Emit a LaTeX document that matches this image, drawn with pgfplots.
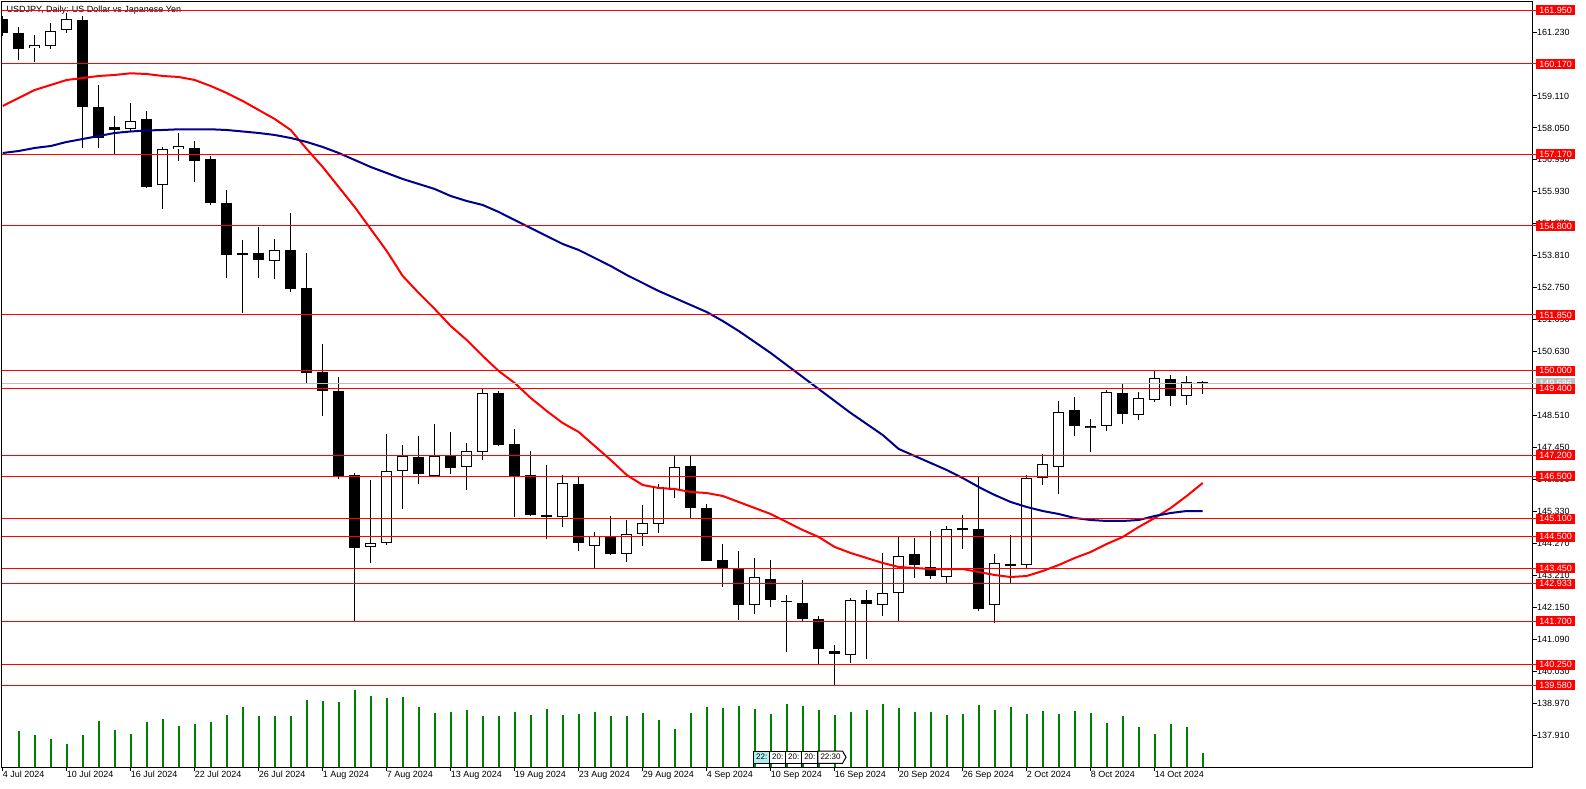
\documentclass[border=0pt]{standalone}
\usepackage{fontspec}
\setmainfont{Liberation Sans}
\usepackage{pgfplots}
\usepackage{pgfplotstable}
\pgfplotsset{compat=1.18}
\definecolor{lvl}{RGB}{255,0,0}
\definecolor{ma2}{RGB}{0,0,139}
\definecolor{vgreen}{RGB}{0,128,0}
\definecolor{bidgrey}{RGB}{192,192,192}
\definecolor{sepcyan}{RGB}{175,238,238}

\pgfplotstableread{
i O H L C
0 161.660 161.750 161.100 161.210
1 161.197 161.406 160.302 160.677
2 160.690 161.131 160.246 160.790
3 160.756 161.519 160.667 161.274
4 161.287 161.850 161.207 161.662
5 161.628 161.761 157.394 158.754
6 158.744 159.473 157.375 157.706
7 158.081 158.446 157.186 157.991
8 158.005 158.867 157.948 158.280
9 158.346 158.611 156.068 156.101
10 156.148 157.418 155.372 157.351
11 157.351 157.872 156.963 157.451
12 157.385 157.617 156.267 156.963
13 157.020 157.119 155.500 155.551
14 155.561 155.992 153.085 153.847
15 153.827 154.334 151.924 153.893
16 153.903 154.775 153.085 153.681
17 153.648 154.367 153.031 154.003
18 154.013 155.240 152.620 152.720
19 152.753 153.893 149.603 149.934
20 149.958 150.876 148.509 149.338
21 149.328 149.792 146.420 146.510
22 146.533 146.600 141.712 144.133
23 144.146 146.377 143.615 144.279
24 144.279 147.902 144.212 146.666
25 146.666 147.537 145.426 147.163
26 147.130 147.836 146.254 146.586
27 146.520 148.234 146.480 147.163
28 147.183 147.969 146.586 146.785
29 146.818 147.604 146.055 147.329
30 147.316 149.404 147.040 149.251
31 149.251 149.318 147.500 147.547
32 147.570 148.058 145.160 146.510
33 146.533 147.329 145.193 145.217
34 145.207 146.865 144.432 145.190
35 145.140 146.533 144.830 146.265
36 146.232 146.486 144.033 144.296
37 144.179 144.653 143.460 144.510
38 144.487 145.183 143.880 143.913
39 143.913 145.051 143.668 144.577
40 144.577 145.549 144.199 144.942
41 144.909 146.232 144.630 146.135
42 146.045 147.173 145.770 146.818
43 146.832 147.173 145.127 145.439
44 145.449 145.582 143.680 143.702
45 143.725 144.255 142.840 143.417
46 143.437 144.023 141.735 142.243
47 142.223 143.791 141.944 143.151
48 143.085 143.725 142.177 142.409
49 142.360 142.565 140.685 142.340
50 142.289 143.062 141.712 141.778
51 141.758 141.867 140.250 140.774
52 140.707 140.897 139.580 140.597
53 140.566 142.465 140.320 142.388
54 142.388 142.730 140.432 142.255
55 142.223 143.947 141.878 142.620
56 142.620 144.497 141.702 143.847
57 143.913 144.444 143.138 143.568
58 143.482 144.696 143.095 143.203
59 143.151 144.842 142.929 144.742
60 144.786 145.217 144.100 144.730
61 144.752 146.486 142.044 142.110
62 142.223 143.923 141.645 143.615
63 143.580 144.554 142.972 143.550
64 143.549 146.533 143.417 146.433
65 146.433 147.240 146.222 146.897
66 146.798 149.000 145.903 148.622
67 148.688 149.130 147.846 148.158
68 148.091 148.400 147.316 148.158
69 148.158 149.361 148.012 149.285
70 149.251 149.561 148.244 148.555
71 148.522 149.295 148.377 149.086
72 149.020 150.000 148.973 149.749
73 149.716 149.858 148.840 149.172
74 149.152 149.825 148.873 149.617
75 149.617 149.660 149.240 149.583
}\ohlc

\pgfplotstableread{
i v
1 36
2 32
3 28
4 23
5 32
6 46
7 37
8 33
9 45
10 48
11 41
12 43
13 45
14 52
15 60
16 51
17 51
18 51
19 67
20 66
21 65
22 77
23 71
24 69
25 70
26 60
27 54
28 55
29 57
30 51
31 51
32 55
33 52
34 58
35 52
36 53
37 55
38 51
39 51
40 54
41 47
42 38
43 54
44 60
45 59
46 61
47 58
48 53
49 63
50 61
51 57
52 52
53 55
54 57
55 63
56 59
57 55
58 55
59 52
60 53
61 62
62 57
63 60
64 53
65 56
66 53
67 56
68 54
69 44
70 51
71 40
72 33
73 43
74 40
75 14
}\vol

\pgfplotstableread{
i r b
0 158.777 157.219
1 159.042 157.285
2 159.308 157.385
3 159.473 157.451
4 159.639 157.584
5 159.705 157.683
6 159.772 157.782
7 159.805 157.882
8 159.861 157.932
9 159.838 157.965
10 159.772 157.981
11 159.739 158.005
12 159.639 158.005
13 159.440 158.005
14 159.208 157.981
15 158.943 157.932
16 158.644 157.882
17 158.346 157.816
18 157.981 157.716
19 157.351 157.584
20 156.755 157.418
21 156.092 157.219
22 155.428 156.987
23 154.699 156.755
24 153.970 156.556
25 153.141 156.357
26 152.577 156.191
27 152.047 156.025
28 151.483 155.793
29 151.019 155.627
30 150.488 155.495
31 149.991 155.263
32 149.593 154.997
33 149.096 154.732
34 148.665 154.467
35 148.267 154.202
36 147.969 154.003
37 147.504 153.738
38 147.040 153.472
39 146.543 153.174
40 146.211 152.909
41 146.112 152.643
42 146.079 152.411
43 145.979 152.179
44 145.946 151.947
45 145.847 151.649
46 145.648 151.317
47 145.449 150.953
48 145.250 150.588
49 144.985 150.190
50 144.719 149.792
51 144.487 149.394
52 144.156 148.996
53 143.957 148.599
54 143.791 148.234
55 143.625 147.869
56 143.493 147.405
57 143.460 147.173
58 143.426 146.941
59 143.426 146.709
60 143.426 146.443
61 143.327 146.145
62 143.227 145.880
63 143.161 145.648
64 143.194 145.482
65 143.360 145.349
66 143.559 145.250
67 143.791 145.117
68 143.990 145.051
69 144.255 145.018
70 144.487 145.018
71 144.819 145.051
72 145.117 145.184
73 145.449 145.283
74 145.847 145.349
75 146.278 145.349
}\ma

\begin{document}
\begin{tikzpicture}
\begin{scope}[x=1pt,y=1pt]
\useasboundingbox (0,0) rectangle (1586,788);
\fill[white] (0,0) rectangle (1586,788);
\node[anchor=west, inner sep=0pt, font=\fontsize{9}{10}\selectfont] at (6.5,778.3) {USDJPY, Daily: US Dollar vs Japanese Yen};
\end{scope}

% volume overlay
\begin{axis}[at={(2pt,21pt)}, anchor=south west, width=1531pt, height=765pt, scale only axis,
  hide axis, xmin=-0.04375, xmax=95.64, ymin=0, ymax=765]
\addplot[ycomb, vgreen, line width=2pt, mark=none] table[x=i,y=v] \vol;
\end{axis}

\begin{axis}[at={(2pt,21pt)}, anchor=south west, width=1531pt, height=765pt, scale only axis,
  xmin=-0.04375, xmax=95.64, ymin=136.8616, ymax=162.225,
  axis line style={line width=1pt, black},
  tick align=outside, major tick length=4pt,
  every tick/.append style={black, line width=1pt},
  xtick pos=bottom, ytick pos=right, yticklabel pos=right,
  xtick={0,4,...,72},
  xticklabels={4 Jul 2024,10 Jul 2024,16 Jul 2024,22 Jul 2024,26 Jul 2024,1 Aug 2024,7 Aug 2024,13 Aug 2024,19 Aug 2024,23 Aug 2024,29 Aug 2024,4 Sep 2024,10 Sep 2024,16 Sep 2024,20 Sep 2024,26 Sep 2024,2 Oct 2024,8 Oct 2024,14 Oct 2024},
  ytick={161.23,160.17,159.11,158.05,156.99,155.93,154.87,153.81,152.75,151.69,150.63,149.57,148.51,147.45,146.39,145.33,144.27,143.21,142.15,141.09,140.03,138.97,137.91},
  yticklabels={161.230,160.170,159.110,158.050,156.990,155.930,154.870,153.810,152.750,151.690,150.630,149.570,148.510,147.450,146.390,145.330,144.270,143.210,142.150,141.090,140.030,138.970,137.910},
  ticklabel style={font=\fontsize{9}{10}\selectfont, inner sep=0pt},
  xticklabel style={anchor=north west},
  yticklabel style={anchor=west},
  clip=true,
  after end axis/.code={
    \draw[bidgrey, line width=1pt] (axis cs:95.64,149.583) -- ++(3pt,0pt);
    \node[fill=bidgrey, text=white, inner sep=0pt, minimum width=39pt, minimum height=10pt, anchor=west, font=\fontsize{9}{10}\selectfont] at ([xshift=3pt]axis cs:95.64,149.583) {149.586};
    \foreach \v/\t in {161.95/161.950,160.17/160.170,157.17/157.170,154.8/154.800,151.85/151.850,150.0/150.000,149.4/149.400,147.2/147.200,146.5/146.500,145.1/145.100,144.5/144.500,143.45/143.450,142.933/142.933,141.7/141.700,140.25/140.250,139.58/139.580}{
      \draw[lvl, line width=1pt] (axis cs:95.64,\v) -- ++(3pt,0pt);
      \node[fill=lvl, text=white, inner sep=0pt, minimum width=39pt, minimum height=10pt, anchor=west, font=\fontsize{9}{10}\selectfont] at ([xshift=3pt]axis cs:95.64,\v) {\t};
    }
  }
]
% wicks
\addplot[only marks, mark=*, mark size=0pt, mark options={draw=none, fill=none}, black, forget plot,
  error bars/.cd, y dir=plus, y explicit, error mark=none,
  error bar style={line width=1pt, black}]
  table[x=i, y=L, y error expr={\thisrow{H}-\thisrow{L}}] \ohlc;
% bodies (outline / black fill)
\addplot[only marks, mark=*, mark size=0pt, mark options={draw=none, fill=none}, black, forget plot,
  error bars/.cd, y dir=both, y explicit, error mark=none,
  error bar style={line width=11pt, black}]
  table[x=i, y expr={(\thisrow{O}+\thisrow{C})/2}, y error expr={max(abs(\thisrow{C}-\thisrow{O})/2,0.02)}] \ohlc;
% white fill for rising candles
\addplot[only marks, mark=*, mark size=0pt, mark options={draw=none, fill=none}, white, forget plot,
  error bars/.cd, y dir=both, y explicit, error mark=none,
  error bar style={line width=9pt, white}]
  table[x=i, y expr={(\thisrow{O}+\thisrow{C})/2}, y error expr={(\thisrow{C}>\thisrow{O})*max(abs(\thisrow{C}-\thisrow{O})/2-0.0332,0)}] \ohlc;
% moving averages
\addplot[red, line width=2pt, mark=none] table[x=i,y=r] \ma;
\addplot[ma2, line width=2pt, mark=none] table[x=i,y=b] \ma;
% horizontal levels
\pgfplotsinvokeforeach{161.95,160.17,157.17,154.8,151.85,150.0,149.4,147.2,146.5,145.1,144.5,143.45,142.933,141.7,140.25,139.58}{
  \addplot[lvl, line width=1pt, mark=none, forget plot] coordinates {(-1,#1) (100,#1)};
}
\addplot[bidgrey, line width=1pt, mark=none, forget plot] coordinates {(-1,149.583) (100,149.583)};
\end{axis}

% time separator labels
\begin{scope}[x=1pt, y=1pt, line width=1pt, font=\fontsize{8}{9}\selectfont]
\foreach \xa in {753.8,769.6,785.8,801.7,817.9}{\draw (\xa,21) -- (\xa,25);}
\draw[fill=sepcyan] (753.8,24.7) rectangle (769.6,37);
\draw[fill=white] (769.6,24.7) rectangle (785.8,37);
\draw[fill=white] (785.8,24.7) rectangle (801.7,37);
\draw[fill=white] (801.7,24.7) rectangle (817.9,37);
\draw[fill=white] (817.9,24.7) -- (842.5,24.7) -- (846,30.85) -- (842.5,37) -- (817.9,37) -- cycle;
\node[inner sep=0pt] at (761.7,30.85) {22:};
\node[inner sep=0pt] at (777.7,30.85) {20:};
\node[inner sep=0pt] at (793.75,30.85) {20:};
\node[inner sep=0pt] at (809.8,30.85) {20:};
\node[inner sep=0pt] at (830.5,30.85) {22:30};
\end{scope}
\end{tikzpicture}
\end{document}
